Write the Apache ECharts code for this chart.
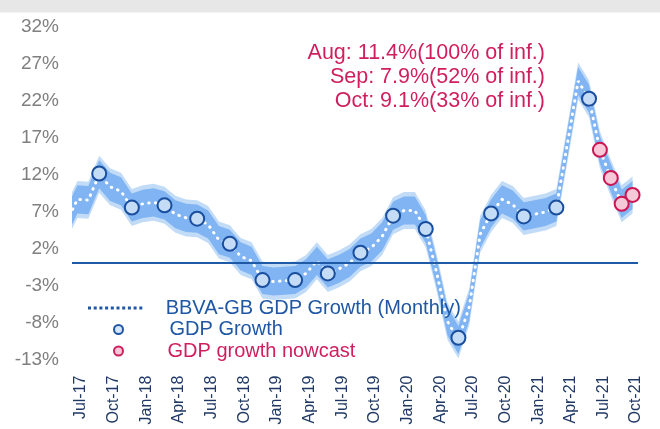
<!DOCTYPE html>
<html lang="en">
<head>
    <meta charset="UTF-8">
    <title>GDP growth</title>
    <script type="text/javascript" src="https://cdn.jsdelivr.net/npm/echarts@6/dist/echarts.min.js"></script>
    <style>
        html, body { margin: 0; padding: 0; background: #fff; }
    </style>
</head>
<body>
<div id="main" style="width: 660px;height:429px;"></div>
<script>
    // months on the x axis (Jun-17 sits just outside the left edge)
    var months = ['Jun-17', 'Jul-17', 'Aug-17', 'Sep-17', 'Oct-17', 'Nov-17', 'Dec-17',
        'Jan-18', 'Feb-18', 'Mar-18', 'Apr-18', 'May-18', 'Jun-18', 'Jul-18', 'Aug-18', 'Sep-18', 'Oct-18', 'Nov-18', 'Dec-18',
        'Jan-19', 'Feb-19', 'Mar-19', 'Apr-19', 'May-19', 'Jun-19', 'Jul-19', 'Aug-19', 'Sep-19', 'Oct-19', 'Nov-19', 'Dec-19',
        'Jan-20', 'Feb-20', 'Mar-20', 'Apr-20', 'May-20', 'Jun-20', 'Jul-20', 'Aug-20', 'Sep-20', 'Oct-20', 'Nov-20', 'Dec-20',
        'Jan-21', 'Feb-21', 'Mar-21', 'Apr-21', 'May-21', 'Jun-21', 'Jul-21', 'Aug-21', 'Sep-21', 'Oct-21'];
    var monthly = [5.5, 8.5, 8.4, 11.9, 10.2, 9.6, 7.4,
        7.9, 8.1, 7.7, 6.5, 6.0, 5.9, 5.1, 3.0, 2.5, 0.8, 0.2, -2.4,
        -2.6, -2.5, -2.4, -1.5, 0.2, -1.5, -0.9, -0.1, 1.3, 2.0, 3.5, 6.3,
        7.0, 7.0, 4.5, -1.4, -8.0, -10.5, -6.0, 3.8, 6.6, 8.5, 7.8, 6.2,
        6.5, 6.8, 7.4, 15.9, 24.5, 22.1, 15.2, 11.4, 7.9, 9.1];
    // half widths of the two uncertainty bands (pp)
    var innerBand = 1.9;
    var outerBand = 2.5;

    var gdpMonths = ['Sep-17', 'Dec-17', 'Mar-18', 'Jun-18', 'Sep-18', 'Dec-18', 'Mar-19', 'Jun-19',
        'Sep-19', 'Dec-19', 'Mar-20', 'Jun-20', 'Sep-20', 'Dec-20', 'Mar-21', 'Jun-21'];
    var gdp = [12.0, 7.4, 7.7, 5.9, 2.5, -2.4, -2.4, -1.5, 1.3, 6.3, 4.5, -10.2, 6.6, 6.2, 7.4, 22.1];

    var nowcastMonths = ['Jul-21', 'Aug-21', 'Sep-21', 'Oct-21'];
    var nowcast = [15.2, 11.4, 7.9, 9.1];

    var tickLabels = ['Jul-17', 'Oct-17', 'Jan-18', 'Apr-18', 'Jul-18', 'Oct-18', 'Jan-19', 'Apr-19', 'Jul-19',
        'Oct-19', 'Jan-20', 'Apr-20', 'Jul-20', 'Oct-20', 'Jan-21', 'Apr-21', 'Jul-21', 'Oct-21'];
    var yTicks = [-13, -8, -3, 2, 7, 12, 17, 22, 27, 32];
    var notes = ['Aug: 11.4%(100% of inf.)', 'Sep: 7.9%(52% of inf.)', 'Oct: 9.1%(33% of inf.)'];

    var FONT = '"Liberation Sans", Arial, sans-serif';
    var BLUE = '#1f57a4';
    var PINK = '#cf1f5e';
    var DOTS = 'path://M0 0h3v3H0z M5.7 0h3v3H5.7z M11.4 0h3v3h-3z M17.1 0h3v3h-3z M22.8 0h3v3h-3z ' +
        'M28.5 0h3v3h-3z M34.2 0h3v3h-3z M39.9 0h3v3h-3z M45.6 0h3v3h-3z M51.3 0h3v3h-3z';

    // x position: Jul-17 = 0
    function xOf(label) {
        return months.indexOf(label) - 1;
    }
    var line = monthly.map(function (v, i) { return [xOf(months[i]), v]; });
    var gdpData = gdp.map(function (v, i) { return [xOf(gdpMonths[i]), v]; });
    var nowData = nowcast.map(function (v, i) { return [xOf(nowcastMonths[i]), v]; });

    // band polygon between (value + lo) and (value + hi), through the axes
    function band(lo, hi, color) {
        return {
            type: 'custom', data: [[0, 0]], z: 1, silent: true, clip: true,
            renderItem: function (params, api) {
                var up = [], down = [];
                for (var i = 0; i < monthly.length; i++) {
                    up.push(api.coord([line[i][0], monthly[i] + hi]));
                    down.unshift(api.coord([line[i][0], monthly[i] + lo]));
                }
                return {
                    type: 'polygon',
                    shape: {points: up.concat(down)},
                    style: {fill: color, stroke: null}
                };
            }
        };
    }

    var myChart = echarts.init(document.getElementById('main'));
    var option = {
        animation: false,
        backgroundColor: '#ffffff',
        grid: {left: 72, right: 22, top: 25.5, bottom: 70.5},
        xAxis: {
            type: 'value', min: -0.5, max: 51.5,
            axisLine: {show: false}, axisTick: {show: false}, splitLine: {show: false},
            axisLabel: {
                customValues: tickLabels.map(function (t, i) { return i * 3; }),
                formatter: function (v) { return tickLabels[Math.round(v / 3)]; },
                rotate: 90, margin: 17, color: '#1f3864', fontSize: 16, fontFamily: FONT,
                verticalAlign: 'top', lineHeight: 7
            }
        },
        yAxis: {
            type: 'value', min: -13, max: 32,
            axisLine: {show: false}, axisTick: {show: false}, splitLine: {show: false},
            axisLabel: {
                customValues: yTicks,
                formatter: '{value}%', margin: 13, color: '#808080', fontSize: 19, fontFamily: FONT,
                verticalAlign: 'top', lineHeight: 3
            }
        },
        legend: [{
            data: ['BBVA-GB GDP Growth (Monthly)'], left: 88, top: 298, padding: 0,
            itemWidth: 57, itemHeight: 3, icon: DOTS,
            itemStyle: {color: BLUE, borderWidth: 0},
            textStyle: {color: BLUE, fontSize: 20, fontFamily: FONT, lineHeight: 20, padding: [0, 0, 0, 17]}
        }, {
            data: ['GDP Growth'], left: 113, top: 319.5, padding: 0,
            itemWidth: 10, itemHeight: 9, icon: 'circle',
            itemStyle: {color: '#d6e6f8', borderColor: BLUE, borderWidth: 2},
            textStyle: {color: BLUE, fontSize: 20, fontFamily: FONT, lineHeight: 20, padding: [0, 0, 0, 41]}
        }, {
            data: ['GDP growth nowcast'], left: 113, top: 341, padding: 0,
            itemWidth: 10, itemHeight: 9, icon: 'circle',
            itemStyle: {color: '#f7c8d8', borderColor: PINK, borderWidth: 2},
            textStyle: {color: PINK, fontSize: 20, fontFamily: FONT, lineHeight: 20, padding: [0, 0, 0, 39]}
        }],
        graphic: [{
            type: 'rect', left: 0, top: 0, z: -1,
            shape: {width: 660, height: 12.5},
            style: {fill: '#e7e7e7'}
        }, {
            type: 'text', right: 115, top: 40.5, z: 10,
            style: {
                text: notes.join('\n'), fill: PINK, font: '21.5px ' + FONT,
                textAlign: 'right', lineHeight: 24.3
            }
        }],
        series: [
            band(-outerBand, outerBand, '#c2dcf8'),
            band(-innerBand, innerBand, '#80b4f2'),
            {
                name: 'zero', type: 'line', data: [], z: 2, silent: true,
                markLine: {
                    silent: true, symbol: ['none', 'none'], label: {show: false},
                    lineStyle: {color: '#1f5aa6', width: 2, type: 'solid'},
                    emphasis: {disabled: true},
                    data: [{yAxis: 0}]
                }
            },
            {
                name: 'BBVA-GB GDP Growth (Monthly)', type: 'line', data: line, z: 3,
                symbol: 'none', silent: true,
                lineStyle: {color: '#ffffff', width: 3, type: [0.5, 6.3], cap: 'round'}
            },
            {
                name: 'GDP Growth', type: 'scatter', data: gdpData, z: 4,
                symbolSize: 14, silent: true,
                itemStyle: {color: '#c5dcf6', borderColor: '#1a4e9e', borderWidth: 2, opacity: 1}
            },
            {
                name: 'GDP growth nowcast', type: 'scatter', data: nowData, z: 4,
                symbolSize: 14, silent: true,
                itemStyle: {color: '#f7c8d8', borderColor: '#cc1553', borderWidth: 2, opacity: 1}
            }
        ]
    };
    myChart.setOption(option);
</script>
</body>
</html>
